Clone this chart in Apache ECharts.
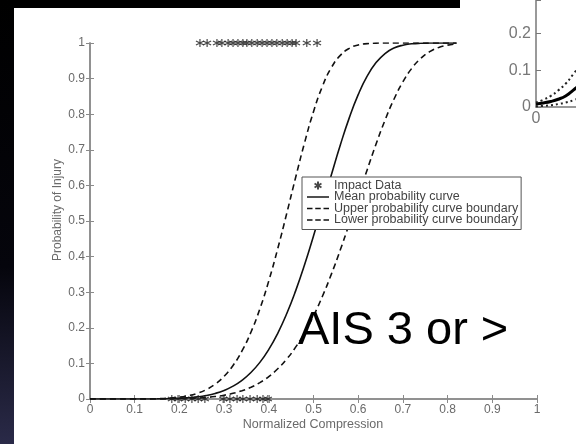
<!DOCTYPE html>
<html><head><meta charset="utf-8">
<script src="https://cdn.jsdelivr.net/npm/echarts@6/dist/echarts.min.js"></script>
<style>html,body{margin:0;padding:0;background:#fff}#c{width:576px;height:444px}</style>
</head><body><div id="c"></div>
<script>
// ---- main chart data ----
const curveX = [0, 0.05, 0.1, 0.15, 0.2, 0.22, 0.24, 0.26, 0.28, 0.3, 0.32, 0.34, 0.36, 0.38, 0.4, 0.42, 0.44, 0.46, 0.48, 0.5, 0.52, 0.54, 0.56, 0.58, 0.6, 0.62, 0.64, 0.66, 0.68, 0.7, 0.72, 0.74, 0.76, 0.78, 0.8, 0.82];
const meanP  = [0, 0, 0, 0.0003, 0.0019, 0.0035, 0.006, 0.0099, 0.0157, 0.0242, 0.0361, 0.0525, 0.0743, 0.1029, 0.1393, 0.1846, 0.2393, 0.3037, 0.3769, 0.4579, 0.5433, 0.6298, 0.7135, 0.7897, 0.8549, 0.9069, 0.9449, 0.9704, 0.9857, 0.9939, 0.9977, 0.9993, 0.9998, 1, 1, 1];
const upperP = [0, 0, 0.0001, 0.0008, 0.0051, 0.0093, 0.016, 0.0264, 0.0417, 0.0638, 0.0943, 0.1349, 0.1876, 0.2532, 0.332, 0.4223, 0.5207, 0.6222, 0.7198, 0.8072, 0.8784, 0.9309, 0.9653, 0.9849, 0.9944, 0.9983, 0.9996, 1, 1, 1, 1, 1, 1, 1, 1, 1];
const lowerP = [0, 0, 0, 0.0001, 0.0008, 0.0015, 0.0026, 0.0043, 0.0069, 0.0106, 0.0159, 0.0232, 0.033, 0.0461, 0.0631, 0.0849, 0.112, 0.1456, 0.1859, 0.2336, 0.2886, 0.3507, 0.419, 0.4921, 0.5678, 0.6435, 0.7162, 0.7833, 0.842, 0.8908, 0.929, 0.9568, 0.9758, 0.9875, 0.9941, 0.9975];
const injuredX   = [0.246, 0.262, 0.284, 0.295, 0.309, 0.32, 0.331, 0.342, 0.351, 0.362, 0.374, 0.385, 0.396, 0.407, 0.418, 0.43, 0.441, 0.452, 0.461, 0.485, 0.508];
const uninjuredX = [0.183, 0.197, 0.213, 0.228, 0.242, 0.257, 0.298, 0.313, 0.329, 0.342, 0.358, 0.374, 0.387, 0.398];
const xTickLabels = ['0', '0.1', '0.2', '0.3', '0.4', '0.5', '0.6', '0.7', '0.8', '0.9', '1'];
const yTickLabels = ['0', '0.1', '0.2', '0.3', '0.4', '0.5', '0.6', '0.7', '0.8', '0.9', '1'];
const legendNames = ['Impact Data', 'Mean probability curve', 'Upper probability curve boundary', 'Lower probability curve boundary'];
// ---- inset chart data ----
const insetX     = [0, 0.02, 0.04, 0.06, 0.08, 0.1, 0.12];
const insetMean  = [0.008, 0.011, 0.015, 0.021, 0.03, 0.045, 0.062];
const insetUpper = [0.012, 0.02, 0.03, 0.045, 0.063, 0.088, 0.115];
const insetLower = [0.002, 0.003, 0.005, 0.008, 0.012, 0.018, 0.026];
const insetYLabels = ['0', '0.1', '0.2'];

const pair = (xs, ys) => xs.map((x, i) => [x, ys[i]]);
const AST = 'path://M5,0L5,10M0.67,2.5L9.33,7.5M0.67,7.5L9.33,2.5';
const ICON_SOLID = 'path://M0,4L24,4L24,5.6L0,5.6Z';
const ICON_DASH = 'path://M0,4L6,4L6,5.6L0,5.6ZM9,4L15,4L15,5.6L9,5.6ZM18,4L24,4L24,5.6L18,5.6Z';
const FONT = '"Liberation Sans", Arial, sans-serif';
const AX = '#8a8a8a';
const TXT = '#6a6a6a';

const chart = echarts.init(document.getElementById('c'), null, {renderer: 'canvas'});
const tickFmt = (arr) => (v) => { const i = Math.round(v * 10); return arr[i] !== undefined ? arr[i] : ''; };

chart.setOption({
  backgroundColor: '#ffffff',
  animation: false,
  grid: [
    {left: 90, top: 43, width: 447, height: 356, outerBoundsMode: 'none', containLabel: false},
    {left: 536, top: 0, width: 200, height: 107, outerBoundsMode: 'none', containLabel: false}
  ],
  xAxis: [
    {gridIndex: 0, type: 'value', min: 0, max: 1, interval: 0.1, position: 'bottom',
     axisLine: {lineStyle: {color: AX, width: 1.5}}, axisTick: {inside: true, length: 4, lineStyle: {color: AX}},
     splitLine: {show: false},
     axisLabel: {margin: 5, color: TXT, fontSize: 12, fontFamily: FONT, formatter: tickFmt(xTickLabels)}},
    {gridIndex: 0, type: 'value', min: 0, max: 1, interval: 0.1, position: 'top',
     axisLine: {lineStyle: {color: AX, width: 1.5}}, axisTick: {inside: true, length: 4, lineStyle: {color: AX}},
     splitLine: {show: false}, axisLabel: {show: false}},
    {gridIndex: 1, type: 'value', min: 0, max: 0.54, interval: 0.2, position: 'bottom', z: 110,
     axisLine: {lineStyle: {color: '#777', width: 1.5}}, axisTick: {show: false},
     splitLine: {show: false},
     axisLabel: {margin: 4, color: '#777', fontSize: 16, fontFamily: FONT, formatter: (v) => v === 0 ? '0' : ''}}
  ],
  yAxis: [
    {gridIndex: 0, type: 'value', min: 0, max: 1, interval: 0.1, position: 'left',
     axisLine: {show: true, lineStyle: {color: AX, width: 1.5}}, axisTick: {show: true, inside: true, length: 4, lineStyle: {color: AX}},
     splitLine: {show: false},
     axisLabel: {margin: 5, color: TXT, fontSize: 12, fontFamily: FONT, formatter: tickFmt(yTickLabels)}},
    {gridIndex: 0, type: 'value', min: 0, max: 1, interval: 0.1, position: 'right',
     axisLine: {show: true, lineStyle: {color: AX, width: 1.5}}, axisTick: {show: true, inside: true, length: 4, lineStyle: {color: AX}},
     splitLine: {show: false}, axisLabel: {show: false}},
    {gridIndex: 1, type: 'value', min: 0, max: 0.29, interval: 0.1, position: 'left', z: 110,
     axisLine: {show: true, lineStyle: {color: '#777', width: 1.5}}, axisTick: {show: true, inside: true, length: 5, lineStyle: {color: '#777'}},
     splitLine: {show: false},
     axisLabel: {margin: 5, color: '#777', fontSize: 16, fontFamily: FONT, formatter: (v) => insetYLabels[Math.round(v * 10)] || ''}}
  ],
  legend: {
    left: 302, top: 177, orient: 'vertical',
    data: [
      {name: legendNames[0], icon: AST},
      {name: legendNames[1], icon: ICON_SOLID},
      {name: legendNames[2], icon: ICON_DASH},
      {name: legendNames[3], icon: ICON_DASH}
    ],
    backgroundColor: '#fff', borderColor: '#555', borderWidth: 1, padding: [2, 3, 3, 5],
    itemWidth: 22, itemHeight: 8, itemGap: -1.5,
    textStyle: {color: '#444', fontSize: 12.5, fontFamily: FONT}
  },
  series: [
    {name: legendNames[0], type: 'scatter', xAxisIndex: 0, yAxisIndex: 0, symbol: AST, symbolSize: 8,
     itemStyle: {color: 'rgba(0,0,0,0)', borderColor: '#1a1a1a', borderWidth: 1.2},
     data: injuredX.map(x => [x, 1]).concat(uninjuredX.map(x => [x, 0])), z: 5},
    {name: legendNames[1], type: 'line', xAxisIndex: 0, yAxisIndex: 0, symbol: 'none', smooth: true,
     itemStyle: {color: '#111'}, lineStyle: {color: '#111', width: 1.6}, data: pair(curveX, meanP)},
    {name: legendNames[2], type: 'line', xAxisIndex: 0, yAxisIndex: 0, symbol: 'none', smooth: true,
     itemStyle: {color: '#111'}, lineStyle: {color: '#111', width: 1.6, type: [6, 4]}, data: pair(curveX, upperP)},
    {name: legendNames[3], type: 'line', xAxisIndex: 0, yAxisIndex: 0, symbol: 'none', smooth: true,
     itemStyle: {color: '#111'}, lineStyle: {color: '#111', width: 1.6, type: [6, 4]}, data: pair(curveX, lowerP)},
    {name: 'inset mean', type: 'line', xAxisIndex: 2, yAxisIndex: 2, symbol: 'none', smooth: true, z: 112,
     lineStyle: {color: '#000', width: 3}, data: pair(insetX, insetMean)},
    {name: 'inset upper', type: 'line', xAxisIndex: 2, yAxisIndex: 2, symbol: 'none', smooth: true, z: 112,
     lineStyle: {color: '#222', width: 2, type: [2, 3]}, data: pair(insetX, insetUpper)},
    {name: 'inset lower', type: 'line', xAxisIndex: 2, yAxisIndex: 2, symbol: 'none', smooth: true, z: 112,
     lineStyle: {color: '#222', width: 2, type: [2, 3]}, data: pair(insetX, insetLower)}
  ],
  graphic: [
    {type: 'rect', z: 100, shape: {x: 0, y: 0, width: 460, height: 8}, style: {fill: '#000'}},
    {type: 'rect', z: 100, shape: {x: 0, y: 0, width: 14, height: 444},
     style: {fill: new echarts.graphic.LinearGradient(0, 0, 0, 1, [
       {offset: 0, color: '#000'}, {offset: 0.6, color: '#05050c'}, {offset: 1, color: '#2a2a48'}])}},
    {type: 'rect', z: 105, shape: {x: 460, y: 0, width: 116, height: 128}, style: {fill: '#fff'}},
    {type: 'text', z: 100, x: 58, y: 210, rotation: Math.PI / 2,
     style: {text: 'Probability of Injury', fill: TXT, font: '12px ' + FONT, textAlign: 'center', textVerticalAlign: 'middle'}},
    {type: 'text', z: 100, x: 313, y: 425,
     style: {text: 'Normalized Compression', fill: TXT, font: '12.5px ' + FONT, textAlign: 'center', textVerticalAlign: 'middle'}},
    {type: 'text', z: 120, x: 298, y: 331,
     style: {text: 'AIS 3 or >', fill: '#000', font: '47px ' + FONT, textAlign: 'left', textVerticalAlign: 'middle'}}
  ]
});
</script>
</body></html>
